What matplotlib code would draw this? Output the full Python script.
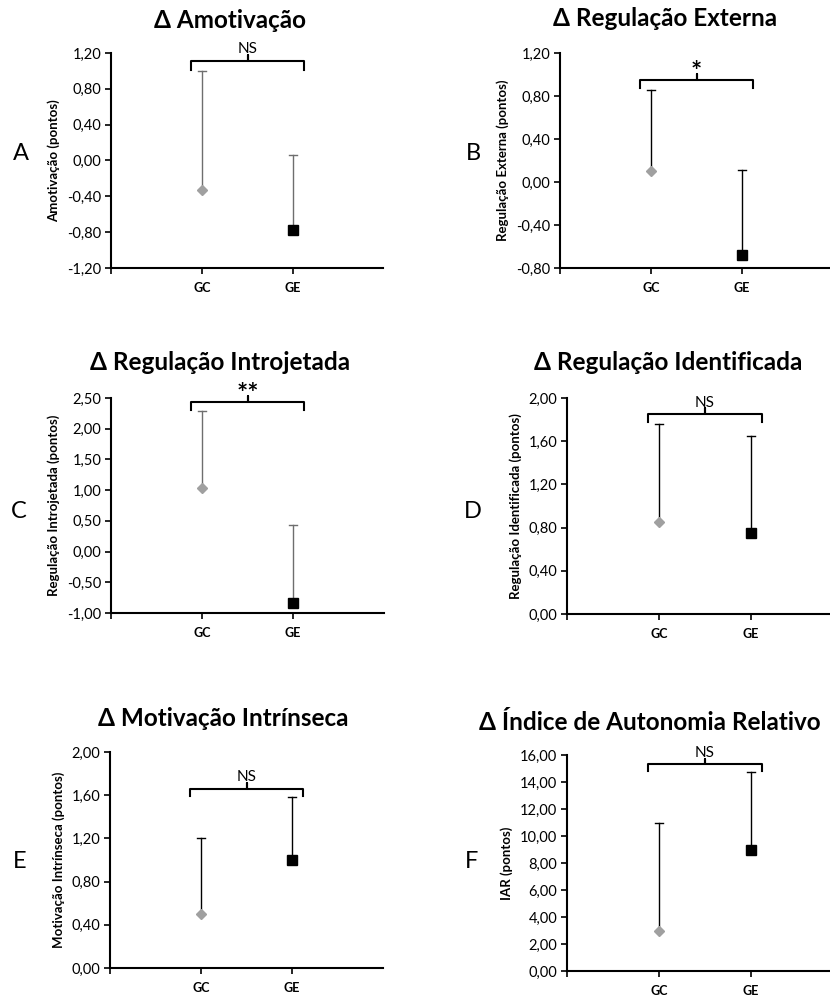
import matplotlib
matplotlib.use("Agg")
import matplotlib.pyplot as plt
from matplotlib.ticker import FixedLocator, FuncFormatter

plt.rcParams["font.family"] = ["Lato", "DejaVu Sans"]

# data
groups = ["GC", "GE"]
letters = ["A", "B", "C", "D", "E", "F"]
titles = ["Δ Amotivação", "Δ Regulação Externa", "Δ Regulação Introjetada",
          "Δ Regulação Identificada", "Δ Motivação Intrínseca", "Δ Índice de Autonomia Relativo"]
ylabels = ["Amotivação (pontos)", "Regulação Externa (pontos)", "Regulação Introjetada (pontos)",
           "Regulação Identificada (pontos)", "Motivação Intrínseca (pontos)", "IAR (pontos)"]
means = [[-0.33, -0.78], [0.10, -0.68], [1.04, -0.83], [0.85, 0.75], [0.50, 1.00], [2.95, 9.00]]
upper = [[1.00, 0.06], [0.86, 0.11], [2.29, 0.44], [1.76, 1.65], [1.20, 1.58], [11.00, 14.75]]
signif = ["NS", "*", "**", "NS", "NS", "NS"]
ylims = [(-1.20, 1.20), (-0.80, 1.20), (-1.00, 2.50), (0.00, 2.00), (0.00, 2.00), (0.00, 16.00)]
ysteps = [0.40, 0.40, 0.50, 0.40, 0.40, 2.00]
bracket_y = [(1.11, 1.01), (0.95, 0.87), (2.435, 2.31), (1.85, 1.78), (1.66, 1.59), (15.3, 14.85)]
err_colors = ["#6e6e6e", "black", "#6e6e6e", "black", "black", "black"]

# axes boxes in pixels: left, top, right, bottom
W, H = 830, 998
boxes = [(111, 53, 383, 268), (560, 53, 830, 268),
         (111, 398, 384, 613), (567, 398, 830, 614),
         (110, 752, 383, 968), (567, 755, 830, 971)]
title_pos = [(230, 20), (665, 18), (220, 363), (668, 363), (223, 719), (650, 722)]
letter_pos = [(21, 153), (473, 153), (19, 512), (473, 512), (20, 862), (472, 862)]
xunit = [91, 91, 91, 92, 91, 92]

fig = plt.figure(figsize=(W / 100, H / 100), dpi=100)


def fmt(v, _):
    return f"{v:.2f}".replace(".", ",")


for i in range(6):
    l, t, r, b = boxes[i]
    ax = fig.add_axes([l / W, 1 - b / H, (r - l) / W, (b - t) / H])
    x = [1, 2]

    # error bars (upper only)
    for j in range(2):
        ax.plot([x[j], x[j]], [means[i][j], upper[i][j]], color=err_colors[i], lw=1.0, zorder=2)
        ax.plot([x[j] - 0.045, x[j] + 0.045], [upper[i][j]] * 2, color=err_colors[i], lw=1.0, zorder=2)

    ax.plot(x[0], means[i][0], marker="D", ms=5.5, color="#a0a0a0", ls="none", zorder=3)
    ax.plot(x[1], means[i][1], marker="s", ms=7.5, color="black", ls="none", zorder=3)

    # significance bracket
    ytop, yend = bracket_y[i]
    lo, hi = ylims[i]
    rng = hi - lo
    xl, xr = 0.88, 2.12
    xc = (xl + xr) / 2
    nub = rng * 0.027
    ax.plot([xl, xl, xc, xc, xc, xr, xr], [yend, ytop, ytop, ytop + nub, ytop, ytop, yend],
            color="black", lw=1.5, clip_on=False, solid_joinstyle="round")
    if signif[i] == "NS":
        ax.annotate("NS", (xc, ytop), xytext=(0, 5.5), textcoords="offset points",
                    ha="center", va="baseline", fontsize=11, annotation_clip=False)
    else:
        ax.annotate(signif[i], (xc, ytop), xytext=(0, 0), textcoords="offset points",
                    ha="center", va="baseline", fontsize=19, fontweight="bold", annotation_clip=False)

    ax.set_xlim(0, (r - l) / xunit[i])
    ax.set_ylim(lo, hi)
    nt = int(round(rng / ysteps[i]))
    ax.yaxis.set_major_locator(FixedLocator([lo + k * ysteps[i] for k in range(nt + 1)]))
    ax.yaxis.set_major_formatter(FuncFormatter(fmt))
    ax.set_xticks([0, 1, 2])
    ax.set_xticklabels(["", groups[0], groups[1]], fontweight="bold", fontsize=9)
    ax.tick_params(axis="y", labelsize=10.5, length=4, width=1.2, pad=3)
    ax.tick_params(axis="x", length=4, width=1.2, pad=6)
    for s in ["top", "right"]:
        ax.spines[s].set_visible(False)
    for s in ["left", "bottom"]:
        ax.spines[s].set_linewidth(1.5)
    ax.set_ylabel(ylabels[i], fontsize=9.5, fontweight="bold", labelpad=5)

    fig.text(title_pos[i][0] / W, 1 - title_pos[i][1] / H, titles[i], ha="center", va="center",
             fontsize=17.5, fontweight="bold")
    fig.text(letter_pos[i][0] / W, 1 - letter_pos[i][1] / H, letters[i], ha="center", va="center",
             fontsize=17)

fig.savefig("out.png", dpi=100)
